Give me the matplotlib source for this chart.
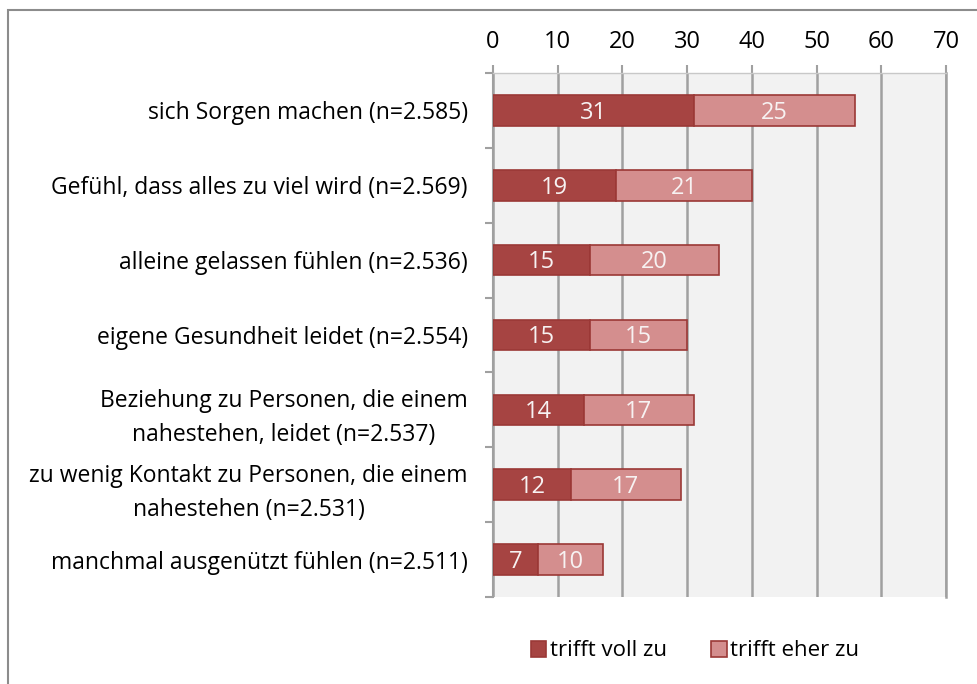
import matplotlib
matplotlib.use("Agg")
import matplotlib.pyplot as plt
import numpy as np
from matplotlib.patches import Rectangle

labels = [
    "sich Sorgen machen (n=2.585)",
    "Gefühl, dass alles zu viel wird (n=2.569)",
    "alleine gelassen fühlen (n=2.536)",
    "eigene Gesundheit leidet (n=2.554)",
    "Beziehung zu Personen, die einem\nnahestehen, leidet (n=2.537)",
    "zu wenig Kontakt zu Personen, die einem\nnahestehen (n=2.531)",
    "manchmal ausgenützt fühlen (n=2.511)",
]
voll = [31, 19, 15, 15, 14, 12, 7]
eher = [25, 21, 20, 15, 17, 17, 10]
series_names = ["trifft voll zu", "trifft eher zu"]
ticks = [0, 10, 20, 30, 40, 50, 60, 70]

dark = "#A64442"
light = "#D48E8E"
edge = "#9B3836"
grid = "#A0A0A0"

plt.rcParams["font.family"] = ["Open Sans", "DejaVu Sans"]
plt.rcParams["font.size"] = 16

fig = plt.figure(figsize=(9.78, 6.84), dpi=100)
fig.patches.append(Rectangle((8 / 978, -0.01), 1.0, 1 - 10 / 684 + 0.01,
                             transform=fig.transFigure, fill=False,
                             edgecolor="#8C8C8C", linewidth=1.5, zorder=0))

ax = fig.add_axes([493 / 978, 1 - 597 / 684, 453 / 978, 524 / 684])
ax.set_facecolor("#F2F2F2")

y = np.arange(len(labels))
h = 0.41
b1 = ax.barh(y, voll, height=h, color=dark, edgecolor=edge, linewidth=1.2, zorder=3)
b2 = ax.barh(y, eher, left=voll, height=h, color=light, edgecolor=edge, linewidth=1.2, zorder=3)

for vals, offs in ((voll, [0] * len(voll)), (eher, voll)):
    for yi, v, o in zip(y, vals, offs):
        ax.text(o + v / 2, yi + 0.03, str(v), ha="center", va="center",
                color="#F7F2F2", fontsize=17, zorder=4)

ax.set_xlim(0, 70)
ax.set_ylim(len(labels) - 0.5, -0.5)
ax.xaxis.tick_top()
ax.set_xticks(ticks)
ax.tick_params(axis="x", length=6, width=1.5, color=grid, pad=8, labelsize=17)
ax.set_yticks(y)
ax.set_yticklabels(labels, multialignment="center", linespacing=1.55)
ax.tick_params(axis="y", length=0, pad=18, labelsize=16.5)
ax.set_yticks(np.arange(-0.5, len(labels)), minor=True)
ax.tick_params(axis="y", which="minor", length=6, width=1.5, color=grid)

ax.grid(axis="x", color=grid, linewidth=1.8, zorder=1)
ax.set_axisbelow(True)
ax.spines["bottom"].set_visible(False)
ax.spines["top"].set_color("#C8C8C8")
ax.spines["top"].set_linewidth(1.0)
ax.spines["left"].set_color(grid)
ax.spines["left"].set_linewidth(1.5)
ax.spines["right"].set_color(grid)
ax.spines["right"].set_linewidth(1.8)

fig.legend([b1, b2], series_names, loc="center", ncol=2,
           bbox_to_anchor=(695 / 978, 1 - 651 / 684), frameon=False,
           fontsize=16, handlelength=0.7, handleheight=0.7,
           handletextpad=0.15, columnspacing=2.0)

fig.savefig("out.png", dpi=100)
